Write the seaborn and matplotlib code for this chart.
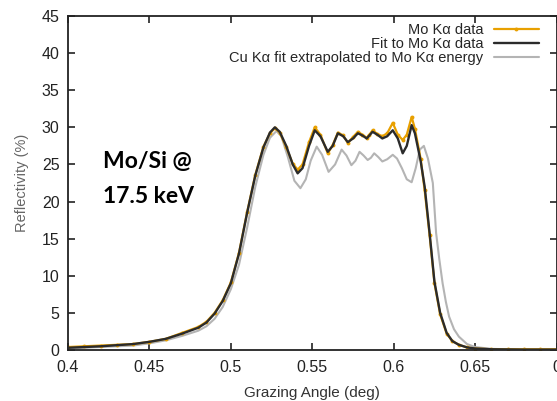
import numpy as np
import pandas as pd
import matplotlib
matplotlib.use("Agg")
import matplotlib.pyplot as plt
import seaborn as sns

# ---- data ----
fit_x = [0.40, 0.42, 0.44, 0.45, 0.46, 0.47, 0.48, 0.485, 0.49, 0.495, 0.50, 0.505, 0.51, 0.515,
         0.52, 0.524, 0.527, 0.530, 0.534, 0.538, 0.541, 0.544, 0.548, 0.5515, 0.555, 0.5595,
         0.5625, 0.5657, 0.569, 0.5718, 0.575, 0.578, 0.5808, 0.5834, 0.585, 0.587, 0.590, 0.593,
         0.596, 0.5994, 0.6025, 0.6055, 0.608, 0.611, 0.613, 0.6165, 0.619, 0.622, 0.625, 0.6285,
         0.6325, 0.636, 0.640, 0.645, 0.65, 0.66, 0.68, 0.70]
fit_y = [0.3, 0.5, 0.8, 1.1, 1.5, 2.2, 3.0, 3.7, 4.9, 6.6, 9.0, 13.0, 18.5, 23.5,
         27.3, 29.3, 30.0, 29.4, 27.5, 25.0, 23.8, 24.5, 27.5, 29.6, 28.8, 26.7,
         27.5, 29.2, 28.8, 28.0, 28.5, 29.2, 28.9, 28.5, 28.9, 29.4, 29.0, 28.5,
         28.8, 29.6, 28.5, 26.5, 27.5, 30.3, 29.2, 25.5, 22.0, 15.8, 9.2, 5.0,
         2.3, 1.2, 0.7, 0.35, 0.2, 0.1, 0.05, 0.05]

data_x = [0.40, 0.41, 0.42, 0.43, 0.44, 0.45, 0.46, 0.47, 0.48, 0.485, 0.49, 0.495, 0.50, 0.505,
          0.51, 0.515, 0.52, 0.524, 0.527, 0.530, 0.534, 0.538, 0.541, 0.544, 0.548, 0.5515, 0.555,
          0.5595, 0.5625, 0.5657, 0.569, 0.5718, 0.575, 0.578, 0.5808, 0.5834, 0.585, 0.587, 0.590,
          0.593, 0.596, 0.5994, 0.6025, 0.6055, 0.608, 0.611, 0.613, 0.6165, 0.619, 0.622, 0.625,
          0.6285, 0.6325, 0.636, 0.640, 0.645, 0.65, 0.66, 0.67, 0.68, 0.69, 0.70]
data_y = [0.4, 0.5, 0.6, 0.7, 0.8, 1.1, 1.5, 2.3, 3.1, 3.8, 5.0, 6.7, 9.1, 13.1,
          18.6, 23.6, 27.4, 29.2, 29.9, 29.3, 27.3, 25.1, 24.3, 25.0, 28.0, 30.0, 29.0,
          26.5, 27.6, 29.3, 28.9, 27.9, 28.7, 29.4, 29.0, 28.6, 29.0, 29.6, 29.1,
          28.8, 29.2, 30.6, 29.0, 28.3, 29.0, 31.4, 29.8, 25.8, 21.5, 15.5, 9.0,
          4.8, 2.2, 1.2, 0.7, 0.35, 0.2, 0.1, 0.1, 0.1, 0.1, 0.1]

cu_x = [0.40, 0.42, 0.44, 0.45, 0.46, 0.47, 0.48, 0.485, 0.49, 0.495, 0.50, 0.505, 0.51, 0.515,
        0.52, 0.524, 0.528, 0.531, 0.535, 0.539, 0.5427, 0.546, 0.549, 0.5527, 0.556, 0.560,
        0.564, 0.568, 0.571, 0.574, 0.5765, 0.579, 0.5815, 0.584, 0.586, 0.588, 0.5905, 0.593,
        0.596, 0.5994, 0.602, 0.605, 0.608, 0.611, 0.6135, 0.616, 0.6185, 0.621, 0.624, 0.626,
        0.628, 0.630, 0.632, 0.634, 0.637, 0.640, 0.645, 0.65, 0.66, 0.68, 0.70]
cu_y = [0.2, 0.4, 0.6, 0.9, 1.3, 1.9, 2.6, 3.2, 4.2, 5.8, 8.2, 11.5, 16.5, 22.0,
        26.3, 28.6, 29.5, 28.8, 26.0, 22.8, 21.8, 23.0, 25.5, 27.4, 26.3, 24.0,
        25.0, 27.0, 26.2, 24.9, 25.5, 26.7, 26.2, 25.6, 25.9, 26.5, 26.0, 25.4,
        25.7, 26.3, 25.8, 24.5, 23.0, 22.6, 24.5, 27.0, 27.5, 25.8, 22.5, 15.8,
        12.2, 9.0, 6.5, 4.5, 2.8, 1.8, 0.8, 0.4, 0.15, 0.05, 0.05]

x_ticks = [0.4, 0.45, 0.5, 0.55, 0.6, 0.65, 0.7]
x_tick_labels = ["0.4", "0.45", "0.5", "0.55", "0.6", "0.65", "0"]
y_ticks = [0, 5, 10, 15, 20, 25, 30, 35, 40, 45]

labels = ["Mo K\u03b1 data", "Fit to Mo K\u03b1 data", "Cu K\u03b1 fit extrapolated to Mo K\u03b1 energy"]

df_data = pd.DataFrame({"x": data_x, "y": data_y})
df_fit = pd.DataFrame({"x": fit_x, "y": fit_y})
df_cu = pd.DataFrame({"x": cu_x, "y": cu_y})

sns.set_theme(style="ticks")
plt.rcParams["font.family"] = ["Liberation Sans", "DejaVu Sans"]

W, H = 557, 401
L, R, B, T = 68, 556.6, 350, 16
fig = plt.figure(figsize=(W / 100, H / 100), dpi=100)
ax = fig.add_axes([L / W, 1 - B / H, (R - L) / W, (B - T) / H])

sns.lineplot(data=df_data, x="x", y="y", ax=ax, color="#E8A000", lw=1.6, marker="o",
             markersize=2.8, markeredgewidth=0, sort=False, estimator=None, label=labels[0], zorder=2)
sns.lineplot(data=df_fit, x="x", y="y", ax=ax, color="#2b2b2b", lw=1.7, sort=False,
             estimator=None, label=labels[1], zorder=3)
sns.lineplot(data=df_cu, x="x", y="y", ax=ax, color="#b4b4b4", lw=1.5, sort=False,
             estimator=None, label=labels[2], zorder=1)

ax.set_xlim(0.4, 0.7)
ax.set_ylim(0, 45)
ax.set_xticks(x_ticks)
ax.set_xticklabels(x_tick_labels)
ax.set_yticks(y_ticks)
ax.tick_params(direction="in", length=5, width=1.2, top=True, right=True, labelsize=11.5,
               colors="#222222", pad=6)
ax.tick_params(axis="x", labeltop=False, pad=7)
for sp in ax.spines.values():
    sp.set_linewidth(1.3)
    sp.set_color("#222222")

ax.set_xlabel("Grazing Angle (deg)", fontsize=11, color="#333333", labelpad=8)
ax.set_ylabel("Reflectivity (%)", fontsize=10.5, color="#666666", labelpad=9)

ax_w = R - L
leg = ax.legend(loc="upper right", frameon=False, markerfirst=False, alignment="right",
                fontsize=10.5, handlelength=3.1, labelspacing=0.0, borderaxespad=0,
                borderpad=0, handletextpad=0.7,
                bbox_to_anchor=((539 - L) / ax_w, (B - 23) / (B - T)))

ax.text(103 / W, 1 - 179 / H, "Mo/Si @\n17.5 keV", transform=fig.transFigure,
        fontsize=16.5, fontweight="bold", family="Lato", color="black",
        ha="left", va="center", linespacing=1.8)

fig.savefig("out.png", dpi=100)
